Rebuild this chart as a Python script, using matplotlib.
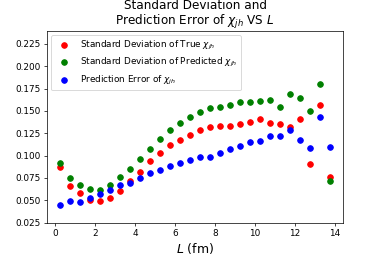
import numpy as np
import matplotlib
matplotlib.use('Agg')
import matplotlib.pyplot as plt

# Distancias L (fm) y las tres series
L_fm = [0.25, 0.75, 1.25, 1.75, 2.25, 2.75, 3.25, 3.75, 4.25, 4.75,
        5.25, 5.75, 6.25, 6.75, 7.25, 7.75, 8.25, 8.75, 9.25, 9.75,
        10.25, 10.75, 11.25, 11.75, 12.25, 12.75, 13.25, 13.75]

std_true = [0.0878, 0.0661, 0.0583, 0.0501, 0.0490, 0.0523, 0.0609, 0.0712,
            0.0822, 0.0938, 0.1035, 0.1118, 0.1177, 0.1233, 0.1289, 0.1323,
            0.1337, 0.1328, 0.1353, 0.1379, 0.1409, 0.1360, 0.1357, 0.1326,
            0.1409, 0.0911, 0.1570, 0.0759]

std_pred = [0.0916, 0.0748, 0.0669, 0.0624, 0.0617, 0.0673, 0.0759, 0.0849,
            0.0961, 0.1073, 0.1185, 0.1289, 0.1364, 0.1427, 0.1494, 0.1532,
            0.1550, 0.1572, 0.1597, 0.1595, 0.1614, 0.1626, 0.1550, 0.1685,
            0.1640, 0.1502, 0.1801, 0.0721]

pred_err = [0.0448, 0.0493, 0.0479, 0.0530, 0.0568, 0.0617, 0.0669, 0.0698,
            0.0754, 0.0804, 0.0841, 0.0882, 0.0919, 0.0953, 0.0983, 0.0990,
            0.1028, 0.1073, 0.1106, 0.1155, 0.1166, 0.1222, 0.1222, 0.1286,
            0.1177, 0.1080, 0.1427, 0.1102]


def main():
    fig = plt.figure(figsize=(382 / 64, 255 / 64), dpi=64)
    ax = fig.add_axes([0.123, 0.127, 0.775, 0.753])

    ax.scatter(L_fm, std_true, color='red', s=40,
               label=r'Standard Deviation of True $\chi_{jh}$')
    ax.scatter(L_fm, std_pred, color='green', s=40,
               label=r'Standard Deviation of Predicted $\chi_{jh}$')
    ax.scatter(L_fm, pred_err, color='blue', s=40,
               label=r'Prediction Error of $\chi_{jh}$')

    ax.set_ylim(0.025, 0.24)
    ax.set_yticks(np.arange(0.025, 0.2251, 0.025))
    ax.set_title('Standard Deviation and\n'
                 r'Prediction Error of $\chi_{jh}$ VS $L$',
                 fontsize=13.5, pad=1, linespacing=1.05)
    ax.set_xlabel(r'$L$ (fm)', fontsize=14)
    ax.legend(loc='upper left')

    fig.savefig('out.png', dpi=64)


if __name__ == '__main__':
    main()
